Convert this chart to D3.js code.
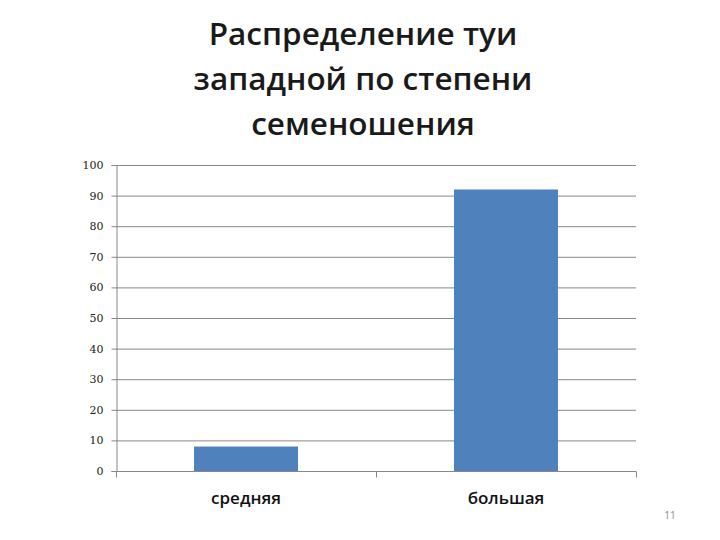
<!DOCTYPE html>
<html><head><meta charset="utf-8">
<script src="https://cdn.jsdelivr.net/npm/d3@7"></script>
<style>body{margin:0;background:#fff}svg{display:block}</style>
</head><body><svg id="c" width="720" height="540"></svg>
<script>
const titleLines = ["Распределение туи", "западной по степени", "семеношения"];
const categories = ["средняя", "большая"];
const values = [8, 92];
const yTicks = [0,10,20,30,40,50,60,70,80,90,100];
const pageNumber = "11";

const svg = d3.select("#c");
const m = {left:116, right:636, top:165, bottom:471};
const x = d3.scaleBand().domain(categories).range([m.left, m.right]).paddingInner(0.6).paddingOuter(0.3);
const y = d3.scaleLinear().domain([0,100]).range([m.bottom, m.top]);

svg.append("g").selectAll("text").data(titleLines).join("text")
  .attr("x", 363).attr("y", (d,i)=>45+i*45)
  .attr("text-anchor","middle")
  .attr("font-family","Open Sans, sans-serif").attr("font-weight",600)
  .attr("font-size",31.5).attr("fill","#1a1a1a").text(d=>d);

// gridlines
svg.append("g").selectAll("line").data(yTicks.filter(t=>t>0)).join("line")
  .attr("x1", m.left).attr("x2", m.right)
  .attr("y1", d=>y(d)+0.5).attr("y2", d=>y(d)+0.5)
  .attr("stroke","#878787").attr("stroke-width",1);

// y axis
const ya = svg.append("g").attr("transform",`translate(${m.left+0.5},0)`)
  .call(d3.axisLeft(y).tickValues(yTicks).tickSize(5).tickPadding(8));
ya.select(".domain").attr("stroke","#878787");
ya.selectAll(".tick line").attr("stroke","#878787");
ya.selectAll(".tick text").attr("font-family","DejaVu Serif, serif").attr("font-size",11).attr("fill","#222");

// bars
svg.append("g").selectAll("rect").data(values).join("rect")
  .attr("x",(d,i)=>x(categories[i])).attr("width",x.bandwidth())
  .attr("y",d=>y(d)).attr("height",d=>y(0)-y(d))
  .attr("fill","#4F81BD");

// x axis
const step = (m.right-m.left)/categories.length;
const xa = svg.append("g").attr("transform",`translate(0,${m.bottom+0.5})`);
xa.append("line").attr("x1",m.left).attr("x2",m.right).attr("stroke","#878787");
xa.selectAll("line.t").data(d3.range(categories.length+1)).join("line").attr("class","t")
  .attr("x1",d=>m.left+d*step+0.5).attr("x2",d=>m.left+d*step+0.5)
  .attr("y1",0).attr("y2",6).attr("stroke","#878787");
xa.selectAll("text").data(categories).join("text")
  .attr("x",d=>x(d)+x.bandwidth()/2).attr("y",32)
  .attr("text-anchor","middle").attr("font-family","Open Sans, sans-serif")
  .attr("font-size",17).attr("font-weight",600).attr("fill","#111").text(d=>d);

svg.append("text").attr("x",670).attr("y",519).attr("text-anchor","middle")
  .attr("font-family","Open Sans, sans-serif").attr("font-size",10).attr("fill","#8a8a8a").text(pageNumber);
</script></body></html>
